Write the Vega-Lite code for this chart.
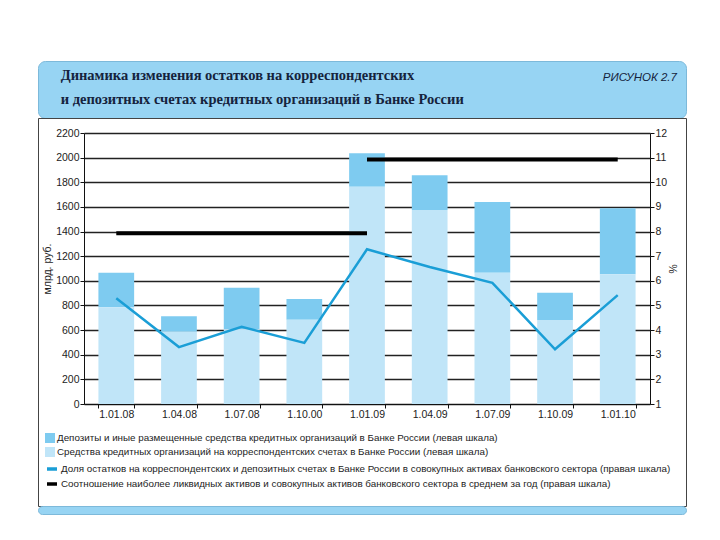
{
  "$schema": "https://vega.github.io/schema/vega-lite/v6.json",
  "background": "white",
  "padding": {"left": 37, "top": 60, "right": 0, "bottom": 0},
  "spacing": 0,
  "bounds": "flush",
  "datasets": {
    "bars": [
      {"date": "1.01.08", "series": "Депозиты и иные размещенные средства кредитных организаций в Банке России (левая шкала)", "value": 280},
      {"date": "1.04.08", "series": "Депозиты и иные размещенные средства кредитных организаций в Банке России (левая шкала)", "value": 125},
      {"date": "1.07.08", "series": "Депозиты и иные размещенные средства кредитных организаций в Банке России (левая шкала)", "value": 338},
      {"date": "1.10.00", "series": "Депозиты и иные размещенные средства кредитных организаций в Банке России (левая шкала)", "value": 168},
      {"date": "1.01.09", "series": "Депозиты и иные размещенные средства кредитных организаций в Банке России (левая шкала)", "value": 271},
      {"date": "1.04.09", "series": "Депозиты и иные размещенные средства кредитных организаций в Банке России (левая шкала)", "value": 281},
      {"date": "1.07.09", "series": "Депозиты и иные размещенные средства кредитных организаций в Банке России (левая шкала)", "value": 574},
      {"date": "1.10.09", "series": "Депозиты и иные размещенные средства кредитных организаций в Банке России (левая шкала)", "value": 222},
      {"date": "1.01.10", "series": "Депозиты и иные размещенные средства кредитных организаций в Банке России (левая шкала)", "value": 537},
      {"date": "1.01.08", "series": "Средства кредитных организаций на корреспондентских счетах в Банке России (левая шкала)", "value": 785},
      {"date": "1.04.08", "series": "Средства кредитных организаций на корреспондентских счетах в Банке России (левая шкала)", "value": 587},
      {"date": "1.07.08", "series": "Средства кредитных организаций на корреспондентских счетах в Банке России (левая шкала)", "value": 606},
      {"date": "1.10.00", "series": "Средства кредитных организаций на корреспондентских счетах в Банке России (левая шкала)", "value": 684},
      {"date": "1.01.09", "series": "Средства кредитных организаций на корреспондентских счетах в Банке России (левая шкала)", "value": 1764},
      {"date": "1.04.09", "series": "Средства кредитных организаций на корреспондентских счетах в Банке России (левая шкала)", "value": 1575},
      {"date": "1.07.09", "series": "Средства кредитных организаций на корреспондентских счетах в Банке России (левая шкала)", "value": 1066},
      {"date": "1.10.09", "series": "Средства кредитных организаций на корреспондентских счетах в Банке России (левая шкала)", "value": 682},
      {"date": "1.01.10", "series": "Средства кредитных организаций на корреспондентских счетах в Банке России (левая шкала)", "value": 1053}
    ],
    "share": [
      {"date": "1.01.08", "series": "Доля остатков на корреспондентских и депозитных счетах в Банке России в совокупных активах банковского сектора (правая шкала)", "pct": 5.29},
      {"date": "1.04.08", "series": "Доля остатков на корреспондентских и депозитных счетах в Банке России в совокупных активах банковского сектора (правая шкала)", "pct": 3.31},
      {"date": "1.07.08", "series": "Доля остатков на корреспондентских и депозитных счетах в Банке России в совокупных активах банковского сектора (правая шкала)", "pct": 4.13},
      {"date": "1.10.00", "series": "Доля остатков на корреспондентских и депозитных счетах в Банке России в совокупных активах банковского сектора (правая шкала)", "pct": 3.48},
      {"date": "1.01.09", "series": "Доля остатков на корреспондентских и депозитных счетах в Банке России в совокупных активах банковского сектора (правая шкала)", "pct": 7.28},
      {"date": "1.04.09", "series": "Доля остатков на корреспондентских и депозитных счетах в Банке России в совокупных активах банковского сектора (правая шкала)", "pct": 6.56},
      {"date": "1.07.09", "series": "Доля остатков на корреспондентских и депозитных счетах в Банке России в совокупных активах банковского сектора (правая шкала)", "pct": 5.92},
      {"date": "1.10.09", "series": "Доля остатков на корреспондентских и депозитных счетах в Банке России в совокупных активах банковского сектора (правая шкала)", "pct": 3.22},
      {"date": "1.01.10", "series": "Доля остатков на корреспондентских и депозитных счетах в Банке России в совокупных активах банковского сектора (правая шкала)", "pct": 5.42}
    ],
    "liquid": [
      {"date": "1.01.08", "period": "2008", "series": "Соотношение наиболее ликвидных активов и совокупных активов банковского сектора в среднем за год (правая шкала)", "pct": 7.93},
      {"date": "1.01.09", "period": "2008", "series": "Соотношение наиболее ликвидных активов и совокупных активов банковского сектора в среднем за год (правая шкала)", "pct": 7.93},
      {"date": "1.01.09", "period": "2009", "series": "Соотношение наиболее ликвидных активов и совокупных активов банковского сектора в среднем за год (правая шкала)", "pct": 10.92},
      {"date": "1.01.10", "period": "2009", "series": "Соотношение наиболее ликвидных активов и совокупных активов банковского сектора в среднем за год (правая шкала)", "pct": 10.92}
    ],
    "head": [
      {"title": "Динамика изменения остатков на корреспондентских\nи депозитных счетах кредитных организаций в Банке России", "fig": "РИСУНОК 2.7"}
    ],
    "empty": []
  },
  "vconcat": [
    {
      "width": 648,
      "height": 57,
      "view": {"fill": "#97d4f3", "stroke": "#7db9da", "cornerRadius": 7},
      "data": {"name": "head"},
      "layer": [
        {
          "mark": {"type": "text", "align": "left", "baseline": "middle", "lineBreak": "\n", "lineHeight": 24, "font": "Liberation Serif", "fontSize": 14.5, "fontWeight": "bold", "color": "#15233d"},
          "encoding": {
            "text": {"field": "title"},
            "x": {"datum": 0.035, "type": "quantitative", "scale": {"domain": [0, 1]}, "axis": null},
            "y": {"datum": 0.27, "type": "quantitative", "scale": {"domain": [0, 1], "reverse": true}, "axis": null}
          }
        },
        {
          "mark": {"type": "text", "align": "right", "baseline": "middle", "font": "Liberation Sans", "fontStyle": "italic", "fontSize": 11.5, "color": "#15233d"},
          "encoding": {
            "text": {"field": "fig"},
            "x": {"datum": 0.986, "type": "quantitative"},
            "y": {"datum": 0.3, "type": "quantitative"}
          }
        }
      ]
    },
    {
      "width": 648,
      "height": 388,
      "view": {"fill": "white", "stroke": "#444444", "strokeWidth": 1},
      "layer": [
        {
          "data": {"name": "bars"},
          "mark": {"type": "bar"},
          "encoding": {
            "x": {
              "field": "date", "type": "nominal",
              "scale": {"domain": ["1.01.08", "1.04.08", "1.07.08", "1.10.00", "1.01.09", "1.04.09", "1.07.09", "1.10.09", "1.01.10"], "range": [46, 612], "paddingInner": 0.43, "paddingOuter": 0.23},
              "axis": {"title": null, "orient": "bottom", "offset": -102, "tickBand": "extent", "labelAngle": 0, "tickSize": 4, "labelPadding": 1, "grid": false}
            },
            "y": {
              "field": "value", "type": "quantitative", "stack": "zero",
              "scale": {"domain": [0, 2200], "range": [286, 15], "nice": false},
              "axis": {"orient": "left", "offset": -46, "values": [0, 200, 400, 600, 800, 1000, 1200, 1400, 1600, 1800, 2000, 2200], "format": "d", "title": "млрд. руб.", "titlePadding": 3, "grid": true, "tickSize": 4, "labelPadding": 1}
            },
            "color": {
              "field": "series", "type": "nominal",
              "scale": {"domain": ["Депозиты и иные размещенные средства кредитных организаций в Банке России (левая шкала)", "Средства кредитных организаций на корреспондентских счетах в Банке России (левая шкала)"], "range": ["#7ecbf0", "#c0e5f8"]},
              "legend": {"orient": "none", "legendX": 7, "legendY": 372, "direction": "vertical", "title": null, "symbolType": "square", "symbolSize": 100, "symbolStrokeWidth": 0, "rowPadding": 4}
            },
            "order": {"field": "series", "sort": "descending"}
          }
        },
        {
          "data": {"name": "share"},
          "mark": {"type": "line", "strokeWidth": 2.5},
          "encoding": {
            "x": {"field": "date", "type": "nominal"},
            "y": {
              "field": "pct", "type": "quantitative",
              "scale": {"domain": [1, 12], "range": [286, 15], "nice": false, "zero": false},
              "axis": {"orient": "right", "offset": -36, "values": [1, 2, 3, 4, 5, 6, 7, 8, 9, 10, 11, 12], "title": "%", "titlePadding": 0, "grid": false, "tickSize": 4, "labelPadding": 1}
            },
            "stroke": {
              "field": "series", "type": "nominal",
              "scale": {"domain": ["Доля остатков на корреспондентских и депозитных счетах в Банке России в совокупных активах банковского сектора (правая шкала)", "Соотношение наиболее ликвидных активов и совокупных активов банковского сектора в среднем за год (правая шкала)"], "range": ["#1a9ed6", "#000000"]},
              "legend": {"orient": "none", "legendX": 7, "legendY": 401, "direction": "vertical", "title": null, "symbolType": "stroke", "symbolSize": 100, "symbolStrokeWidth": 3.5, "rowPadding": 1}
            }
          }
        },
        {
          "data": {"name": "liquid"},
          "mark": {"type": "line", "strokeWidth": 4, "strokeCap": "butt"},
          "encoding": {
            "x": {"field": "date", "type": "nominal"},
            "y": {"field": "pct", "type": "quantitative", "scale": {"domain": [1, 12], "range": [286, 15], "nice": false, "zero": false}, "axis": null},
            "stroke": {"field": "series", "type": "nominal"},
            "detail": {"field": "period"}
          }
        }
      ],
      "resolve": {"scale": {"y": "independent"}}
    },
    {
      "width": 648,
      "height": 8,
      "view": {"fill": "#97d4f3", "stroke": "#7db9da", "cornerRadius": 4},
      "data": {"name": "empty"},
      "mark": "text",
      "encoding": {}
    }
  ],
  "config": {
    "font": "Liberation Sans",
    "axis": {
      "labelFont": "Liberation Sans",
      "labelFontSize": 10.5,
      "labelColor": "#222222",
      "titleFont": "Liberation Sans",
      "titleFontSize": 10.5,
      "titleFontWeight": "normal",
      "titleColor": "#222222",
      "domainColor": "#111111",
      "tickColor": "#111111",
      "gridColor": "#222222",
      "gridWidth": 1.3
    },
    "legend": {
      "labelFont": "Liberation Sans",
      "labelFontSize": 9.8,
      "labelColor": "#222222",
      "labelLimit": 700,
      "labelOffset": 2
    }
  }
}
